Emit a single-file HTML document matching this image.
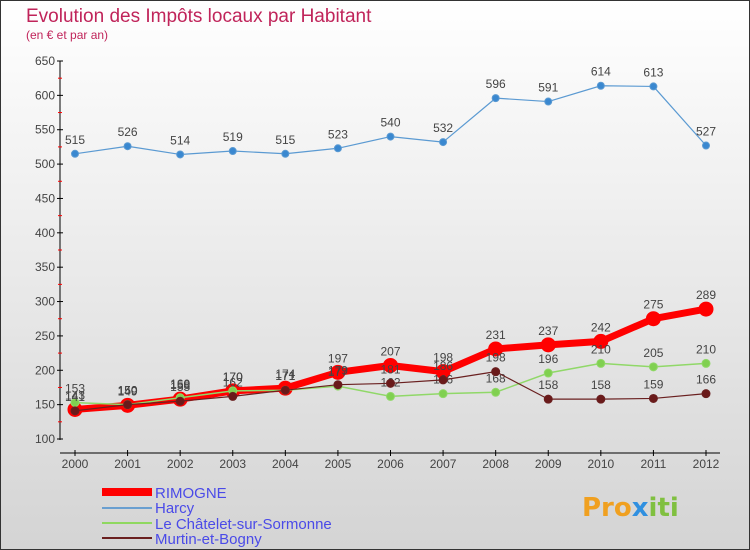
<!DOCTYPE html>
<html><head><meta charset="utf-8"><style>
body{margin:0;}
svg{display:block;font-family:"DejaVu Sans","Liberation Sans",sans-serif;}
</style></head><body>
<svg id="c" width="750" height="550" xmlns="http://www.w3.org/2000/svg">
<defs><linearGradient id="bg" x1="0" y1="0" x2="0" y2="1"><stop offset="0" stop-color="#ffffff"/><stop offset="1" stop-color="#d4d4d4"/></linearGradient></defs>
<rect x="0.5" y="0.5" width="749" height="549" fill="url(#bg)" stroke="#333"/>
<text x="26" y="22" font-size="19" fill="#c0245a" font-family="Liberation Sans, sans-serif">Evolution des Impôts locaux par Habitant</text>
<text x="26" y="39" font-size="12" fill="#c0245a" font-family="Liberation Sans, sans-serif">(en € et par an)</text>
<g id="axes"></g><g id="series"></g>
<g font-family="Liberation Sans, sans-serif">
<line x1="102" y1="492" x2="152" y2="492" stroke="#f00" stroke-width="8"/>
<text x="155" y="498" font-size="15" fill="#4a4ae8">RIMOGNE</text>
<line x1="102" y1="508" x2="152" y2="508" stroke="#6a9fd0" stroke-width="2"/>
<text x="155" y="513" font-size="15" fill="#4a4ae8">Harcy</text>
<line x1="102" y1="523" x2="152" y2="523" stroke="#8fd860" stroke-width="2"/>
<text x="155" y="529" font-size="15" fill="#4a4ae8">Le Châtelet-sur-Sormonne</text>
<line x1="102" y1="538" x2="152" y2="538" stroke="#6a2020" stroke-width="2"/>
<text x="155" y="544" font-size="15" fill="#4a4ae8">Murtin-et-Bogny</text>
</g>
<text x="582" y="516" font-size="26" font-weight="bold"><tspan fill="#f0a020">Pro</tspan><tspan fill="#3090e0">x</tspan><tspan fill="#80c040">iti</tspan></text>
</svg>
<script>
const years=[2000,2001,2002,2003,2004,2005,2006,2007,2008,2009,2010,2011,2012];
const rimogne=[143,149,158,170,174,197,207,198,231,237,242,275,289];
const harcy=[515,526,514,519,515,523,540,532,596,591,614,613,527];
const chatelet=[153,150,160,170,171,177,162,166,168,196,210,205,210];
const murtin=[141,150,155,162,171,179,181,186,198,158,158,159,166];
const yTicks=[100,150,200,250,300,350,400,450,500,550,600,650];
const NS="http://www.w3.org/2000/svg";
const X=i=>75+i*(706-75)/(years.length-1);
const Y=v=>439-(v-100)*(439-61)/550;
function mk(t,a,p){const e=document.createElementNS(NS,t);for(const k in a)e.setAttribute(k,a[k]);p.appendChild(e);return e;}
const ax=document.getElementById('axes');
let l=mk('line',{x1:60,y1:Y(650),x2:60,y2:Y(100)+1,stroke:'#000'},ax);


l=mk('line',{x1:60,y1:453,x2:720,y2:453,stroke:'#000'},ax);


yTicks.forEach(v=>{
 mk('line',{x1:57,y1:Y(v),x2:63,y2:Y(v),stroke:'#000'},ax);
 if(v<650) mk('line',{x1:58,y1:Y(v+25),x2:62,y2:Y(v+25),stroke:'#f00'},ax);
 const t=mk('text',{x:55,y:Y(v)+4,'font-size':12,fill:'#444','text-anchor':'end','font-family':'Liberation Sans, sans-serif'},ax);t.textContent=v;
 
 
});
years.forEach((y,i)=>{
 mk('line',{x1:X(i),y1:450,x2:X(i),y2:456,stroke:'#000'},ax);
 const t=mk('text',{x:X(i),y:468,'font-size':12,fill:'#444','text-anchor':'middle','font-family':'Liberation Sans, sans-serif'},ax);t.textContent=y;
 
 
});
const sg=document.getElementById('series');
function series(name,data,color,w,r,dot){
 const g=mk('g',{},sg);
 
 
 mk('polyline',{points:data.map((v,i)=>X(i)+','+Y(v)).join(' '),fill:'none',stroke:color,'stroke-width':w,'stroke-linejoin':'round'},g);
 data.forEach((v,i)=>{
  const c=mk('circle',{cx:X(i),cy:Y(v),r:r,fill:dot,stroke:color,'stroke-width':1},g);
  
  
  const t=mk('text',{x:X(i),y:Y(v)-10,'font-size':12,fill:'#444','text-anchor':'middle','font-family':'Liberation Sans, sans-serif'},g);t.textContent=v;
  
  
 });
}
series('harcy',harcy,'#5b9ad2',1.2,3.5,'#3a88d0');
series('rimogne',rimogne,'#f00',7,7,'#f00');
series('chatelet',chatelet,'#90d868',1.5,4,'#80d050');
series('murtin',murtin,'#6a2020',1.2,4,'#6a1a1a');
</script>
</body></html>
